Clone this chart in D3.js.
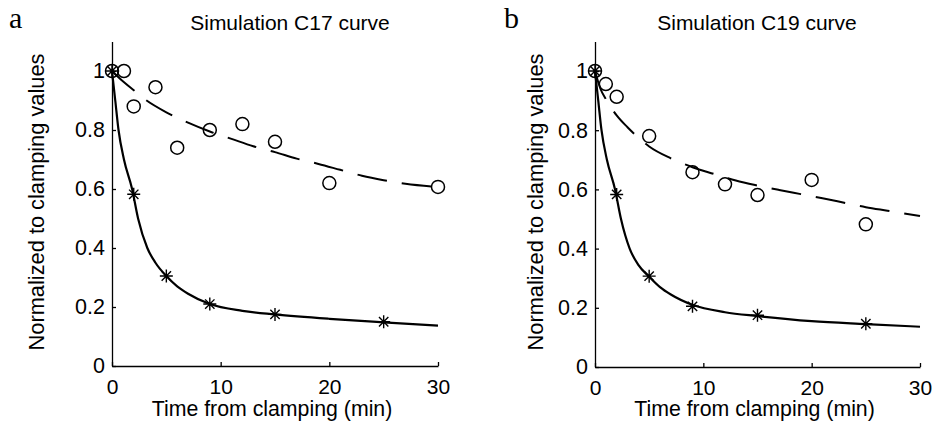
<!DOCTYPE html>
<html>
<head>
<meta charset="utf-8">
<script src="https://cdn.jsdelivr.net/npm/d3@7"></script>
<style>
  body { margin: 0; background: #fff; }
  svg { display: block; }
  text { font-family: "Liberation Sans", Arial, Helvetica, sans-serif; fill: #000; }
</style>
</head>
<body>
<div id="chart"></div>
<script>
// tick values
const xTicks = [0, 10, 20, 30];
const yTicks = [0, 0.2, 0.4, 0.6, 0.8, 1];

// panel a : C17
const c17CircleT = [0, 1.1, 2, 4, 6, 9, 12, 15, 20, 30];
const c17CircleV = [1, 1.0, 0.88, 0.945, 0.74, 0.80, 0.82, 0.76, 0.62, 0.607];
const c17StarT = [0, 2, 5, 9, 15, 25];
const c17StarV = [1, 0.582, 0.305, 0.21, 0.175, 0.15];
const c17FastT = [0, 0.3, 0.6, 1.1, 1.85, 2.4, 3.25, 4, 5, 6, 7, 9, 12, 15, 20, 25, 30];
const c17FastV = [1, 0.9, 0.8, 0.7, 0.6, 0.5, 0.4, 0.35, 0.305, 0.27, 0.245, 0.21, 0.187, 0.175, 0.16, 0.148, 0.137];
const c17SlowT = [0, 1, 2, 3, 5, 7, 9, 11, 13, 15, 17, 19, 21, 23, 25, 27, 30];
const c17SlowV = [1, 0.965, 0.935, 0.905, 0.86, 0.825, 0.795, 0.77, 0.745, 0.725, 0.703, 0.685, 0.665, 0.645, 0.63, 0.618, 0.607];

// panel b : C19
const c19CircleT = [0, 1, 2, 5, 9, 12, 15, 20, 25];
const c19CircleV = [1, 0.956, 0.913, 0.78, 0.658, 0.617, 0.581, 0.632, 0.482];
const c19StarT = [0, 2, 5, 9, 15, 25];
const c19StarV = [1, 0.583, 0.307, 0.205, 0.175, 0.146];
const c19FastT = [0, 0.3, 0.6, 1.1, 1.85, 2.4, 3.2, 4, 5, 6, 7, 9, 12, 15, 20, 25, 30];
const c19FastV = [1, 0.9, 0.8, 0.7, 0.6, 0.5, 0.4, 0.345, 0.305, 0.27, 0.245, 0.21, 0.185, 0.172, 0.155, 0.145, 0.136];
const c19SlowT = [0, 0.5, 1, 2, 3, 4, 5, 7, 9, 11, 13, 15, 17, 19, 21, 23, 25, 27, 30];
const c19SlowV = [1, 0.94, 0.905, 0.85, 0.81, 0.775, 0.745, 0.705, 0.675, 0.652, 0.63, 0.613, 0.598, 0.584, 0.57, 0.555, 0.54, 0.528, 0.51];

const zip = (t, v) => t.map((d, i) => [d, v[i]]);

const svg = d3.select("#chart").append("svg")
	.attr("width", 934)
	.attr("height", 424);

function drawPanel(p) {
	let x = d3.scaleLinear().domain([0, 30]).range([p.left, p.right]);
	let y = d3.scaleLinear().domain([0, 1.1]).range([p.bottom, p.bottom - 1.1 * p.unit]);

	let g = svg.append("g");

	g.append("g")
		.attr("transform", "translate(0," + p.bottom + ")")
		.call(d3.axisBottom(x).tickValues(xTicks).tickSizeInner(-4).tickSizeOuter(0).tickPadding(13).tickFormat(d3.format("d")))
		.call((a) => a.attr("font-size", 21).attr("font-family", null))
		.call((a) => a.selectAll("path, line").attr("stroke", "#000").attr("stroke-width", 1.3));

	g.append("g")
		.attr("transform", "translate(" + p.left + ",0)")
		.call(d3.axisLeft(y).tickValues(yTicks).tickSizeInner(-4).tickSizeOuter(0).tickPadding(7).tickFormat((d) => String(d)))
		.call((a) => a.attr("font-size", 21.5).attr("font-family", null))
		.call((a) => a.selectAll("path, line").attr("stroke", "#000").attr("stroke-width", 1.3));

	let line = d3.line().x((d) => x(d[0])).y((d) => y(d[1])).curve(d3.curveMonotoneX);

	g.append("path")
		.attr("d", line(p.slow))
		.attr("fill", "none")
		.attr("stroke", "#000")
		.attr("stroke-width", 2)
		.attr("stroke-dasharray", "30,15");

	g.append("path")
		.attr("d", line(p.fast))
		.attr("fill", "none")
		.attr("stroke", "#000")
		.attr("stroke-width", 2.2);

	g.append("g").selectAll("circle")
		.data(p.circles).enter()
		.append("circle")
			.attr("cx", (d) => x(d[0]))
			.attr("cy", (d) => y(d[1]))
			.attr("r", 6.5)
			.attr("fill", "none")
			.attr("stroke", "#000")
			.attr("stroke-width", 1.5);

	let s = 6.5, k = s * 0.72;
	g.append("g").selectAll("path")
		.data(p.stars).enter()
		.append("path")
			.attr("transform", (d) => "translate(" + x(d[0]) + "," + y(d[1]) + ")")
			.attr("d", `M${-s},0H${s}M0,${-s}V${s}M${-k},${-k}L${k},${k}M${-k},${k}L${k},${-k}`)
			.attr("stroke", "#000")
			.attr("stroke-width", 1.4);

	g.append("text")
		.attr("x", p.titleX).attr("y", 30)
		.attr("text-anchor", "middle")
		.attr("font-size", 21)
		.text(p.title);

	g.append("text")
		.attr("x", (p.left + p.right) / 2 - 3).attr("y", 416)
		.attr("text-anchor", "middle")
		.attr("font-size", 21.3)
		.text("Time from clamping (min)");

	g.append("text")
		.attr("transform", "translate(" + p.ylabX + ",202) rotate(-90)")
		.attr("text-anchor", "middle")
		.attr("font-size", 21.8)
		.text("Normalized to clamping values");

	g.append("text")
		.attr("x", p.tagX).attr("y", 28)
		.style("font-family", "'Liberation Serif', 'DejaVu Serif', serif")
		.attr("font-size", 30)
		.text(p.tag);
}

drawPanel({
	left: 112, right: 438, bottom: 366, unit: 295,
	title: "Simulation C17 curve", titleX: 290, ylabX: 44, tag: "a", tagX: 9,
	circles: zip(c17CircleT, c17CircleV), stars: zip(c17StarT, c17StarV),
	fast: zip(c17FastT, c17FastV), slow: zip(c17SlowT, c17SlowV)
});

drawPanel({
	left: 595, right: 920, bottom: 367, unit: 296,
	title: "Simulation C19 curve", titleX: 757, ylabX: 543, tag: "b", tagX: 504,
	circles: zip(c19CircleT, c19CircleV), stars: zip(c19StarT, c19StarV),
	fast: zip(c19FastT, c19FastV), slow: zip(c19SlowT, c19SlowV)
});
</script>
</body>
</html>
